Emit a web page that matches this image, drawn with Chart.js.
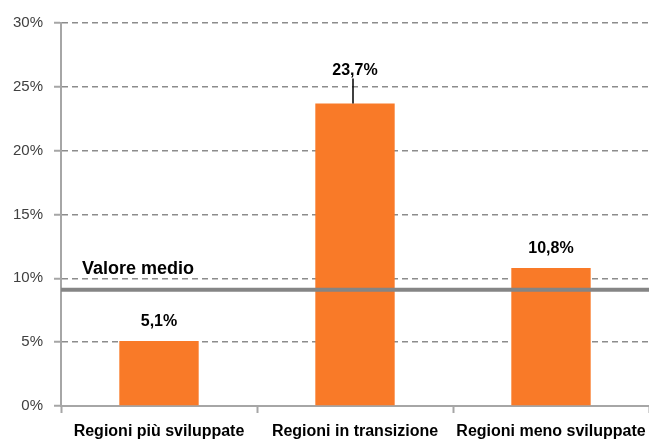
<!DOCTYPE html>
<html>
<head>
<meta charset="utf-8">
<script src="https://cdn.jsdelivr.net/npm/chart.js@4/dist/chart.umd.min.js"></script>
<style>
  html, body { margin: 0; padding: 0; background: #fff; }
  #wrap { width: 649px; height: 442px; }
</style>
</head>
<body>
<div id="wrap"><canvas id="grafico" width="649" height="442"></canvas></div>
<script>
const categorie = ['Regioni più sviluppate', 'Regioni in transizione', 'Regioni meno sviluppate'];
const valori = [5.1, 23.7, 10.8];
const etichette = ['5,1%', '23,7%', '10,8%'];
const valoreMedio = [9.1];
const testoMedio = ['Valore medio'];
const tickY = [0, 5, 10, 15, 20, 25, 30];

const arancio = '#F97A28';
const grigio = '#8c8c8c';

// etichette sopra le barre + linea del valore medio
const pluginEtichette = {
    id: 'etichette',
    afterDatasetsDraw(chart) {
        const ctx = chart.ctx;
        const area = chart.chartArea;
        const y = chart.scales.y;
        const meta = chart.getDatasetMeta(0);

        // linea valore medio
        const ym = y.getPixelForValue(valoreMedio[0]);
        ctx.save();
        ctx.strokeStyle = '#858585';
        ctx.lineWidth = 4;
        ctx.beginPath();
        ctx.moveTo(area.left, ym);
        ctx.lineTo(area.right, ym);
        ctx.stroke();

        // testo valore medio, con sfondo bianco sopra la griglia
        ctx.font = 'bold 18px "Liberation Sans", Arial, sans-serif';
        ctx.textBaseline = 'middle';
        ctx.textAlign = 'left';
        const w = ctx.measureText(testoMedio[0]).width;
        ctx.fillStyle = '#fff';
        ctx.fillRect(area.left + 18, ym - 32, w + 8, 20);
        ctx.fillStyle = '#000';
        ctx.fillText(testoMedio[0], area.left + 21, ym - 21);

        // etichette dei valori
        ctx.font = 'bold 16px "Liberation Sans", Arial, sans-serif';
        ctx.textAlign = 'center';
        const alza = [19, 33, 20];
        meta.data.forEach((bar, i) => {
            const ly = bar.y - alza[i];
            ctx.fillStyle = '#000';
            ctx.fillText(etichette[i], bar.x, ly);
            if (alza[i] > 25) {
                ctx.strokeStyle = '#000';
                ctx.lineWidth = 1.5;
                ctx.beginPath();
                ctx.moveTo(bar.x - 2, ly + 8);
                ctx.lineTo(bar.x - 2, bar.y);
                ctx.stroke();
            }
        });
        ctx.restore();
    }
};

new Chart(document.getElementById('grafico'), {
    type: 'bar',
    data: {
        labels: categorie,
        datasets: [{
            data: valori,
            backgroundColor: arancio,
            borderWidth: 0,
            barPercentage: 0.405,
            categoryPercentage: 1
        }]
    },
    options: {
        responsive: false,
        animation: false,
        devicePixelRatio: 1,
        layout: { padding: { top: 23, right: 0, left: 0, bottom: 0 } },
        plugins: {
            legend: { display: false },
            tooltip: { enabled: false }
        },
        scales: {
            x: {
                offset: true,
                afterFit(scale) {
                    scale.height = 36;
                    scale.paddingLeft = 0;
                    scale.paddingRight = 0;
                },
                grid: {
                    offset: true,
                    drawOnChartArea: false,
                    drawTicks: true,
                    tickLength: 7,
                    tickColor: '#a6a6a6',
                    tickWidth: 2
                },
                border: { color: '#a6a6a6', width: 2 },
                ticks: {
                    padding: 9,
                    color: '#000',
                    maxRotation: 0,
                    autoSkip: false,
                    font: { family: '"Liberation Sans", Arial, sans-serif', size: 16, weight: 'bold' }
                }
            },
            y: {
                min: 0,
                max: 30,
                afterFit(scale) { scale.width = 61; },
                afterBuildTicks(scale) { scale.ticks = tickY.map(v => ({ value: v })); },
                grid: {
                    color: ctx => ctx.tick && ctx.tick.value === 0 ? 'rgba(0,0,0,0)' : grigio,
                    lineWidth: 1.5,
                    drawTicks: true,
                    tickLength: 7,
                    tickColor: '#a6a6a6',
                    tickWidth: 2,
                    tickBorderDash: []
                },
                border: { color: '#a6a6a6', width: 2, dash: [6, 4] },
                ticks: {
                    padding: 11,
                    color: '#404040',
                    callback: v => v + '%',
                    font: { family: '"Liberation Sans", Arial, sans-serif', size: 15 }
                }
            }
        }
    },
    plugins: [pluginEtichette]
});
</script>
</body>
</html>
